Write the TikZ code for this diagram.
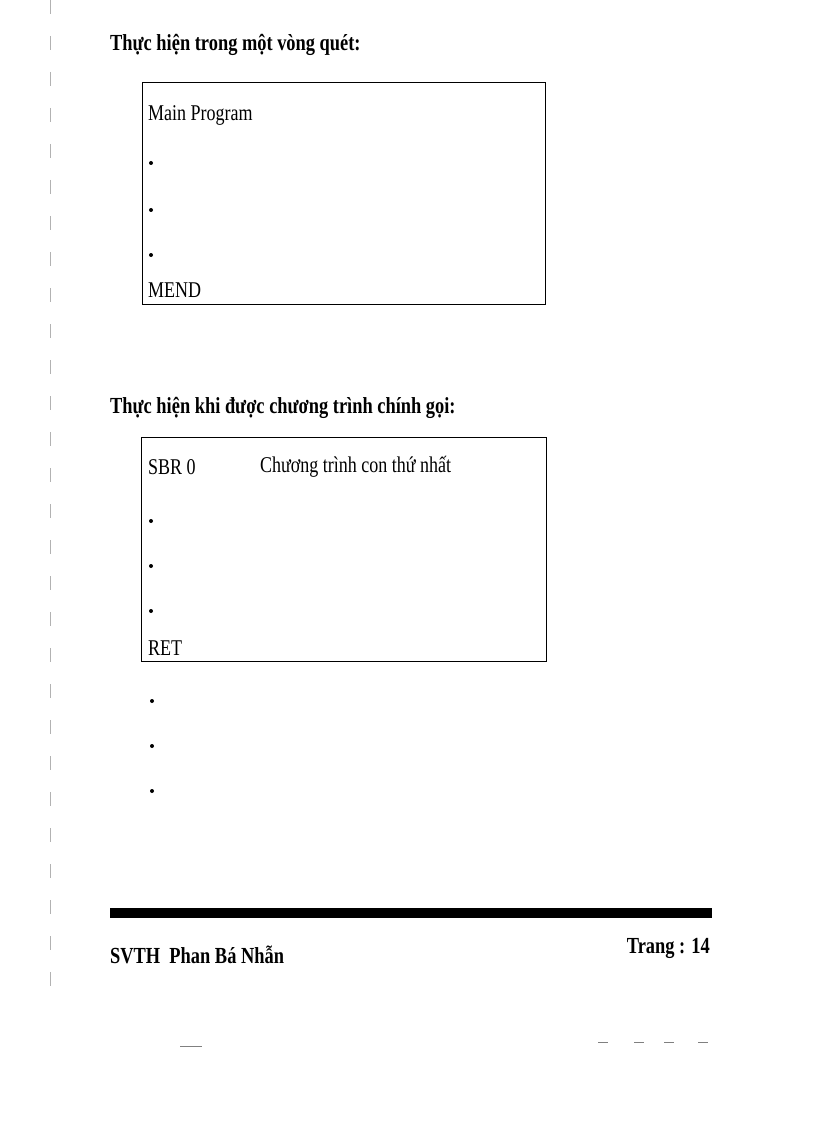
\documentclass[tikz,border=0pt]{standalone}
\usepackage{fontspec}
\setmainfont[FakeStretch=0.8]{Liberation Serif}
\begin{document}
\begin{tikzpicture}[x=1pt,y=-1pt,
  txt/.style={anchor=west,inner sep=0pt,font=\fontsize{22.5}{26}\selectfont},
  ttl/.style={anchor=west,inner sep=0pt,font=\fontsize{23}{27}\selectfont\bfseries},
  dotc/.style={fill=black,circle,inner sep=0pt,minimum size=4pt},
  box/.style={draw=black,line width=1pt}]
\useasboundingbox (0,0) rectangle (816,1123);
\draw[gray!60,dash pattern=on 14pt off 22pt] (50,0) -- (50,990);
\node[ttl] (t1) at (110,45) {Thực hiện trong một vòng quét:};
\draw[box] (142,83) rectangle (545,304);
\node[txt] (mp) at (148,115) {Main Program};
\foreach \y/\n in {163/a,210/b,255/c} \node[dotc] (d1\n) at (151,\y) {};
\node[txt] (mend) at (148,290) {MEND};
\node[ttl] (t2) at (110,408) {Thực hiện khi được chương trình chính gọi:};
\draw[box] (141,437) rectangle (546,661);
\node[txt] (sbr) at (148,467) {SBR 0};
\node[txt] (ct) at (260,467) {Chương trình con thứ nhất};
\foreach \y/\n in {521/a,566/b,611/c} \node[dotc] (d2\n) at (151,\y) {};
\node[txt] (ret) at (148,648) {RET};
\foreach \y/\n in {701/a,746/b,791/c} \node[dotc] (d3\n) at (152,\y) {};
\fill (110,908) rectangle (712,918);
\node[ttl] (sv) at (110,955) {SVTH\ \ Phan Bá Nhẫn};
\node[ttl,anchor=east] (tr) at (710,948) {Trang : 14};
\draw[gray,line width=1pt] (180,1046) -- (202,1046);
\foreach \x in {598,634,664,698} \draw[gray,line width=1pt] (\x,1042) -- (\x+10,1042);
\end{tikzpicture}
\end{document}
